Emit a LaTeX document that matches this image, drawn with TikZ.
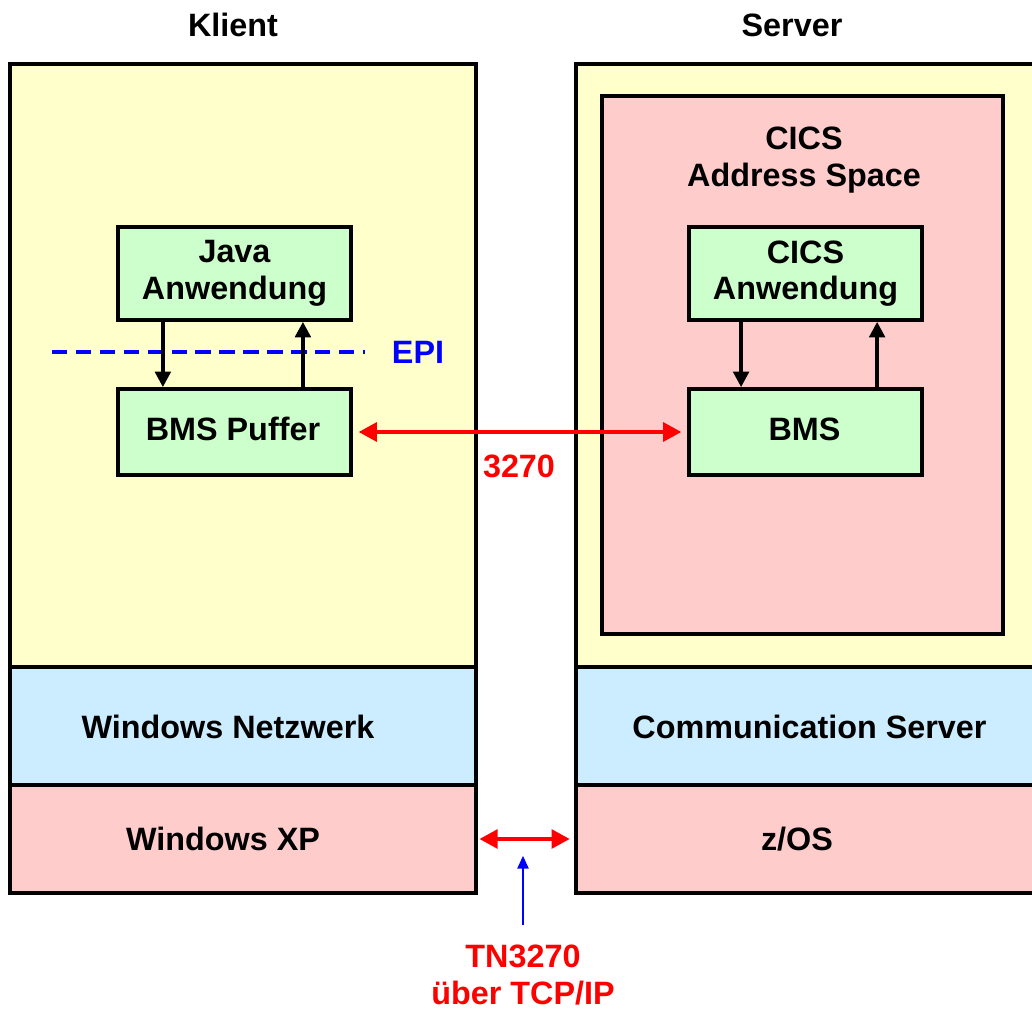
\documentclass[tikz,border=0pt]{standalone}
\usepackage{fontspec}
\setmainfont{Liberation Sans}
\usetikzlibrary{arrows.meta}
\definecolor{hostyellow}{HTML}{FFFFCC}
\definecolor{layerpink}{HTML}{FFCCCC}
\definecolor{layerblue}{HTML}{CCECFF}
\definecolor{appgreen}{HTML}{CCFFCC}
\tikzset{
  lbl/.style={font=\bfseries\fontsize{23}{26}\selectfont, align=center, inner sep=0pt},
  box/.style={lbl, draw, line width=2.6pt},
  layer/.style={box, minimum width=11.65cm},
  appbox/.style={box, fill=appgreen, minimum width=5.825cm},
  call/.style={line width=2.6pt, -{Triangle[length=11pt,width=11pt]}},
  link/.style={red, line width=3.5pt, {Triangle[length=13pt,width=13pt]}-{Triangle[length=13pt,width=13pt]}, shorten <=4pt, shorten >=4pt},
  hint/.style={blue, line width=1pt, -{Triangle[length=9pt,width=8pt]}}
}
\begin{document}
\begin{tikzpicture}[x=0.025cm, y=-0.025cm]
  \useasboundingbox (0,0) rectangle (1032,1010);
  \clip (0,0) rectangle (1032,1010);

  % titles
  \node[lbl] (klient) at (233,25) {Klient};
  \node[lbl] (server) at (792,25) {Server};

  % client stack
  \node[layer, fill=hostyellow, minimum height=15.075cm] (khost) at (243,365.5) {};
  \node[layer, fill=layerblue, minimum height=2.95cm] (knet) at (243,726) {};
  \node[layer, fill=layerpink, minimum height=2.7cm] (xp) at (243,839) {};
  \node[lbl] (knettxt) at (228,727) {Windows Netzwerk};
  \node[lbl] (xptxt) at (223,839) {Windows XP};

  % server stack
  \node[layer, fill=hostyellow, minimum height=15.075cm] (shost) at (809,365.5) {};
  \node[layer, fill=layerblue, minimum height=2.95cm] (comm) at (809,726) {};
  \node[layer, fill=layerpink, minimum height=2.7cm] (zos) at (809,839) {};
  \node[lbl] (commtxt) at (809.5,727) {Communication Server};
  \node[lbl] (zostxt) at (797,839) {z/OS};
  \node[box, fill=layerpink, minimum width=10.025cm, minimum height=13.45cm] (cicsas) at (802.5,365) {};
  \node[lbl] (cicsastxt) at (804,160) {CICS\\Address Space};

  % applications
  \node[appbox, minimum height=2.325cm] (java) at (234.5,273.5) {Java\\Anwendung};
  \node[appbox, minimum height=2.15cm] (puffer) at (234.5,432) {};
  \node[lbl] (puffertxt) at (233,429) {BMS Puffer};
  \node[appbox, minimum height=2.325cm] (cicsapp) at (805.5,273.5) {CICS\\Anwendung};
  \node[appbox, minimum height=2.15cm] (bms) at (805.5,432) {};
  \node[lbl] (bmstxt) at (804.5,429) {BMS};

  % EPI
  \coordinate (epiL) at (52,352);
  \coordinate (epiR) at (365,352);
  \draw[blue, line width=2.6pt, dash pattern=on 11pt off 6pt] (epiL) -- (epiR);
  \node[lbl, text=blue] (epi) at (418,352) {EPI};

  % calls
  \draw[call] ([xshift=-1.79cm]java.south) -- ([xshift=-1.79cm]puffer.north);
  \draw[call] ([xshift=1.71cm]puffer.north) -- ([xshift=1.71cm]java.south);
  \draw[call] ([xshift=-1.61cm]cicsapp.south) -- ([xshift=-1.61cm]bms.north);
  \draw[call] ([xshift=1.79cm]bms.north) -- ([xshift=1.79cm]cicsapp.south);

  % connections
  \draw[link] (puffer) -- (bms);
  \node[lbl, text=red] (dsl) at (519,466) {3270};
  \draw[link, shorten <=1pt, shorten >=3pt] (xp.east) -- (zos.west);
  \node[lbl, text=red] (tn) at (523,975) {TN3270\\über TCP/IP};
  \draw[hint, shorten <=14pt, shorten >=12pt] (tn.north) -- (tn.north |- xp.east);
\end{tikzpicture}
\end{document}
